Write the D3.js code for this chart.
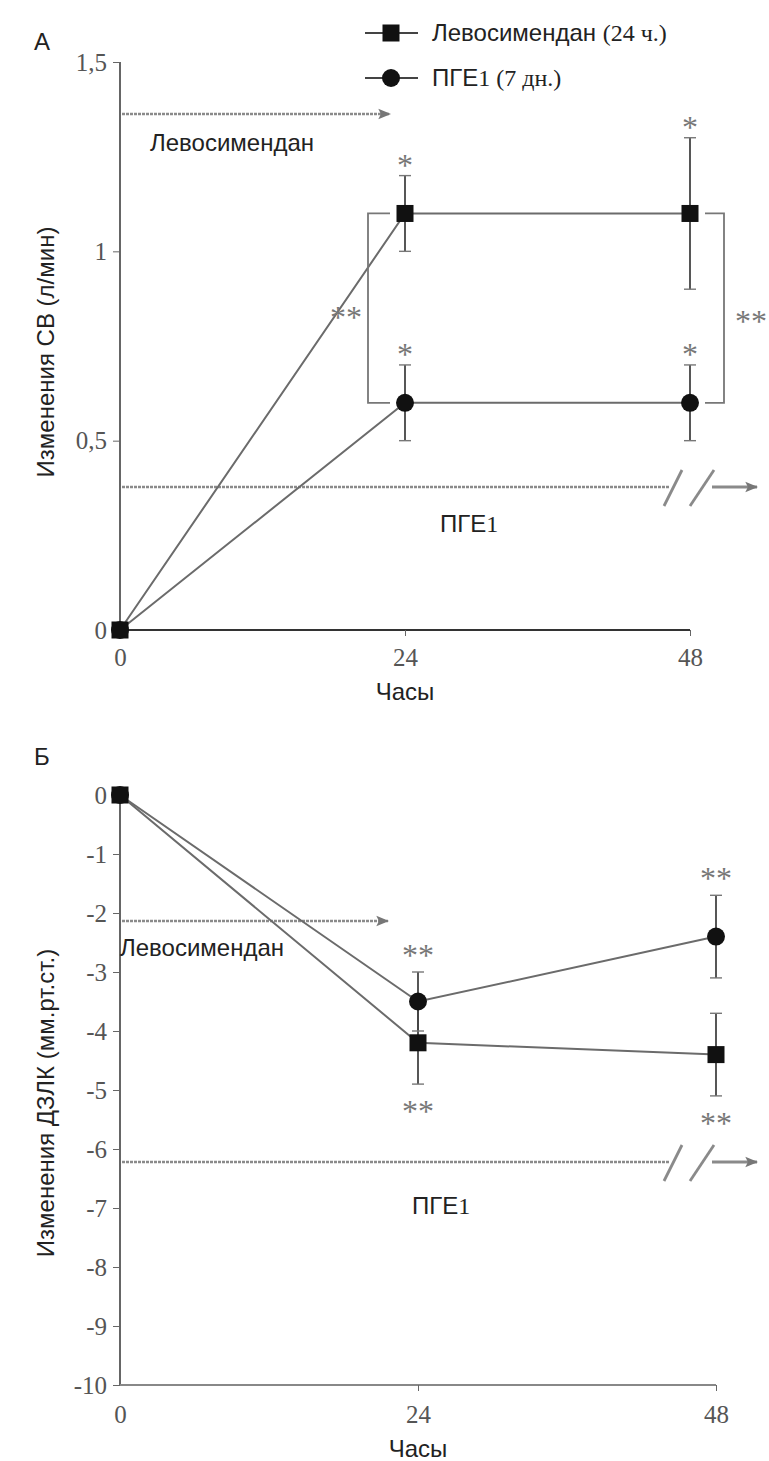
<!DOCTYPE html>
<html>
<head>
<meta charset="utf-8">
<script src="https://cdn.jsdelivr.net/npm/d3@7"></script>
<style>
  body { margin: 0; background: #fff; }
  svg text { font-family: "Liberation Sans", Arial, sans-serif; }
  .serif { font-family: "Liberation Serif", "DejaVu Serif", serif; }
</style>
</head>
<body>
<div id="chart"></div>
<script>
// Hours of observation
const hours = [0, 24, 48];

// Panel A: change in cardiac output, l/min
const coLevo = [0, 1.1, 1.1];
const coLevoErr = [0, 0.1, 0.2];
const coPge = [0, 0.6, 0.6];
const coPgeErr = [0, 0.1, 0.1];
const coTicks = [0, 0.5, 1, 1.5];
const coTickLabels = ["0", "0,5", "1", "1,5"];

// Panel B: change in PCWP, mm Hg
const pcwpLevo = [0, -4.2, -4.4];
const pcwpLevoErr = [0, 0.7, 0.7];
const pcwpPge = [0, -3.5, -2.4];
const pcwpPgeErr = [0, 0.5, 0.7];
const pcwpTicks = [0, -1, -2, -3, -4, -5, -6, -7, -8, -9, -10];

const seriesNames = ["Левосимендан", "ПГЕ1"];

const svg = d3.select("#chart").append("svg")
    .attr("width", 769)
    .attr("height", 1461);

const lineColor = "#6b6b6b";
const axisColor = "#555";
const tickColor = "#666";
const dashColor = "#8a8a8a";
const textSize = 24;
const tickSize = 25;

svg.append("defs").append("marker")
    .attr("id", "arrow")
    .attr("viewBox", "0 0 10 10")
    .attr("refX", 9).attr("refY", 5)
    .attr("markerWidth", 13).attr("markerHeight", 13)
    .attr("markerUnits", "userSpaceOnUse")
    .attr("orient", "auto")
    .append("path")
    .attr("d", "M0,1 L10,5 L0,9 L2,5 Z")
    .attr("fill", "#777");

function drawPanel(opt) {
    const x = d3.scaleLinear().domain([0, 48]).range(opt.xRange);
    const y = d3.scaleLinear().domain(opt.yDomain).range(opt.yRange);
    const g = svg.append("g");

    // y axis
    const yAxis = g.append("g")
        .attr("transform", `translate(${opt.xRange[0]},0)`)
        .call(d3.axisLeft(y).tickValues(opt.ticks).tickSize(7).tickPadding(6)
            .tickFormat((d, i) => opt.tickLabels[i]));
    yAxis.select(".domain").attr("stroke", axisColor).attr("stroke-width", 1.8)
        .attr("d", `M0,${y(opt.yDomain[1])}V${y(opt.yDomain[0])}`);
    yAxis.selectAll(".tick line").attr("stroke", tickColor);
    yAxis.selectAll(".tick text").attr("class", "serif")
        .attr("font-size", tickSize).attr("fill", "#555");

    // x axis
    const xAxis = g.append("g")
        .attr("transform", `translate(0,${opt.xAxisY})`)
        .call(d3.axisBottom(x).tickValues(hours).tickSize(6).tickPadding(opt.xPad));
    xAxis.select(".domain").attr("stroke", opt.xAxisColor).attr("stroke-width", 1.8)
        .attr("d", `M${opt.xRange[0]},0H${opt.xRange[1]}`);
    xAxis.selectAll(".tick line").attr("stroke", tickColor)
        .attr("opacity", d => d === 0 ? 0 : 1);
    xAxis.selectAll(".tick text").attr("class", "serif")
        .attr("font-size", tickSize).attr("fill", "#555");

    g.append("text")
        .attr("x", x(24)).attr("y", opt.xTitleY)
        .attr("text-anchor", "middle")
        .attr("font-size", textSize).attr("fill", "#222")
        .text("Часы");

    g.append("text")
        .attr("transform", `translate(54,${opt.yTitleY}) rotate(-90)`)
        .attr("text-anchor", "middle")
        .attr("font-size", textSize).attr("fill", "#222")
        .text(opt.yTitle);

    g.append("text")
        .attr("x", 34).attr("y", opt.letterY)
        .attr("font-size", textSize).attr("fill", "#222")
        .text(opt.letter);

    // dashed infusion arrows
    const la = opt.levoArrow;
    g.append("line")
        .attr("x1", opt.xRange[0] + 2).attr("x2", la.x2)
        .attr("y1", la.y).attr("y2", la.y)
        .attr("stroke", dashColor).attr("stroke-width", 2.6)
        .attr("stroke-dasharray", "3,1")
        .attr("marker-end", "url(#arrow)");
    g.append("text")
        .attr("x", la.tx).attr("y", la.ty)
        .attr("font-size", textSize).attr("fill", "#222")
        .text(seriesNames[0]);

    const pa = opt.pgeArrow;
    g.append("line")
        .attr("x1", opt.xRange[0] + 2).attr("x2", 670)
        .attr("y1", pa.y).attr("y2", pa.y)
        .attr("stroke", dashColor).attr("stroke-width", 2.6)
        .attr("stroke-dasharray", "3,1");
    g.append("line")
        .attr("x1", 712).attr("x2", 757)
        .attr("y1", pa.y).attr("y2", pa.y)
        .attr("stroke", dashColor).attr("stroke-width", 3)
        .attr("marker-end", "url(#arrow)");
    [[664, 682], [690, 714]].forEach(([a, b]) => {
        g.append("line")
            .attr("x1", a).attr("y1", pa.y + 19)
            .attr("x2", b).attr("y2", pa.y - 17)
            .attr("stroke", dashColor).attr("stroke-width", 2.8);
    });
    const pt = g.append("text")
        .attr("x", pa.tx).attr("y", pa.ty)
        .attr("font-size", textSize).attr("fill", "#222");
    pt.append("tspan").text("ПГЕ");
    pt.append("tspan").attr("class", "serif").text("1");

    // connecting lines
    const line = d3.line().x((d, i) => x(hours[i])).y(d => y(d));
    [opt.levo, opt.pge].forEach(vals => {
        g.append("path")
            .datum(vals)
            .attr("d", line)
            .attr("fill", "none")
            .attr("stroke", lineColor)
            .attr("stroke-width", 2);
    });

    // error bars
    [[opt.levo, opt.levoErr], [opt.pge, opt.pgeErr]].forEach(([vals, errs]) => {
        vals.forEach((v, i) => {
            if (!errs[i]) return;
            const cx = x(hours[i]);
            g.append("line")
                .attr("x1", cx).attr("x2", cx)
                .attr("y1", y(v + errs[i])).attr("y2", y(v - errs[i]))
                .attr("stroke", "#444").attr("stroke-width", 1.8);
            [v + errs[i], v - errs[i]].forEach(e => {
                g.append("line")
                    .attr("x1", cx - 6).attr("x2", cx + 6)
                    .attr("y1", y(e)).attr("y2", y(e))
                    .attr("stroke", "#777").attr("stroke-width", 1.4);
            });
        });
    });

    // markers
    opt.pge.forEach((v, i) => {
        g.append("circle")
            .attr("cx", x(hours[i])).attr("cy", y(v)).attr("r", 9)
            .attr("fill", "#111");
    });
    opt.levo.forEach((v, i) => {
        g.append("rect")
            .attr("x", x(hours[i]) - 8.5).attr("y", y(v) - 8.5)
            .attr("width", 17).attr("height", 17)
            .attr("fill", "#111");
    });

    // significance marks
    opt.stars.forEach(s => {
        g.append("text")
            .attr("class", "serif")
            .attr("x", x(s.h)).attr("y", y(s.v) + s.dy)
            .attr("text-anchor", "middle")
            .attr("font-size", 32).attr("fill", "#777")
            .text(s.t);
    });
    return { x, y, g };
}

// Panel A
const A = drawPanel({
    letter: "А", letterY: 50,
    xRange: [120, 690], yDomain: [0, 1.5], yRange: [630, 62],
    ticks: coTicks, tickLabels: coTickLabels,
    xAxisY: 630, xAxisColor: "#333", xPad: 12, xTitleY: 700,
    yTitle: "Изменения СВ (л/мин)", yTitleY: 352,
    levo: coLevo, levoErr: coLevoErr, pge: coPge, pgeErr: coPgeErr,
    levoArrow: { y: 114, x2: 390, tx: 150, ty: 151 },
    pgeArrow: { y: 487, tx: 440, ty: 532 },
    stars: [
        { h: 24, v: coLevo[1] + coLevoErr[1], dy: 0, t: "*" },
        { h: 48, v: coLevo[2] + coLevoErr[2], dy: 0, t: "*" },
        { h: 24, v: coPge[1] + coPgeErr[1], dy: 0, t: "*" },
        { h: 48, v: coPge[2] + coPgeErr[2], dy: 0, t: "*" }
    ]
});

// brackets comparing the two treatments in panel A
[[368, 390], [724, 705]].forEach(([bx, arm]) => {
    A.g.append("path")
        .attr("d", `M${arm},${A.y(coLevo[1])}H${bx}V${A.y(coPge[1])}H${arm}`)
        .attr("fill", "none").attr("stroke", "#777").attr("stroke-width", 1.8);
});
[[346, 328], [751, 332]].forEach(([sx, sy]) => {
    A.g.append("text")
        .attr("class", "serif")
        .attr("x", sx).attr("y", sy)
        .attr("text-anchor", "middle")
        .attr("font-size", 32).attr("fill", "#777")
        .text("**");
});

// Panel B
drawPanel({
    letter: "Б", letterY: 765,
    xRange: [120, 716], yDomain: [-10, 0], yRange: [1385, 795],
    ticks: pcwpTicks, tickLabels: pcwpTicks.map(String),
    xAxisY: 1385, xAxisColor: "#888", xPad: 14, xTitleY: 1457,
    yTitle: "Изменения ДЗЛК (мм.рт.ст.)", yTitleY: 1103,
    levo: pcwpLevo, levoErr: pcwpLevoErr, pge: pcwpPge, pgeErr: pcwpPgeErr,
    levoArrow: { y: 921, x2: 388, tx: 120, ty: 956 },
    pgeArrow: { y: 1162, tx: 412, ty: 1214 },
    stars: [
        { h: 24, v: pcwpPge[1] + pcwpPgeErr[1], dy: -6, t: "**" },
        { h: 24, v: pcwpLevo[1] - pcwpLevoErr[1], dy: 38, t: "**" },
        { h: 48, v: pcwpPge[2] + pcwpPgeErr[2], dy: -6, t: "**" },
        { h: 48, v: pcwpLevo[2] - pcwpLevoErr[2], dy: 38, t: "**" }
    ]
});

// legend
const legend = svg.append("g");
[0, 1].forEach(i => {
    const ly = 33 + i * 45;
    legend.append("line")
        .attr("x1", 365).attr("x2", 418).attr("y1", ly).attr("y2", ly)
        .attr("stroke", "#444").attr("stroke-width", 1.8);
    if (i === 0) {
        legend.append("rect").attr("x", 382.5).attr("y", ly - 8.5)
            .attr("width", 17).attr("height", 17).attr("fill", "#111");
    } else {
        legend.append("circle").attr("cx", 391).attr("cy", ly).attr("r", 9)
            .attr("fill", "#111");
    }
    const t = legend.append("text")
        .attr("x", 432).attr("y", ly + 8)
        .attr("font-size", textSize).attr("fill", "#222");
    if (i === 0) {
        t.append("tspan").text("Левосимендан ");
        t.append("tspan").attr("class", "serif").text("(24 ч.)");
    } else {
        t.append("tspan").text("ПГЕ");
        t.append("tspan").attr("class", "serif").text("1 (7 дн.)");
    }
});
</script>
</body>
</html>
